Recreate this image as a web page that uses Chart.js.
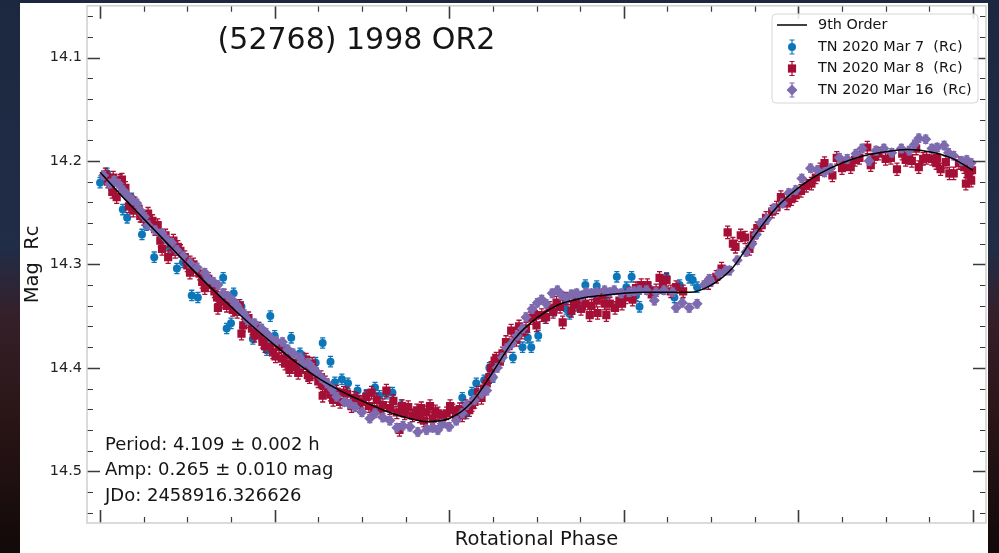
<!DOCTYPE html>
<html><head><meta charset="utf-8">
<script src="https://cdn.jsdelivr.net/npm/chart.js@4/dist/chart.umd.min.js"></script>
<style>
html,body{margin:0;padding:0;width:999px;height:553px;overflow:hidden;}
body{position:relative;background:linear-gradient(180deg,#1c2740 0%,#212c46 45%,#35202a 57%,#2a1517 75%,#120909 100%);font-family:"DejaVu Sans",sans-serif;}
#paper{position:absolute;left:20px;top:3px;width:968px;height:550px;background:#fff;}
#c{position:absolute;left:0;top:0;}
</style></head><body>
<div id="paper"></div>
<canvas id="c" width="999" height="553"></canvas>
<script>
const titleText = '(52768) 1998 OR2';
const xTitle = 'Rotational Phase';
const yTitle = 'Mag  Rc';
const fitName = '9th Order';
const seriesNames = ['TN 2020 Mar 7  (Rc)', 'TN 2020 Mar 8  (Rc)', 'TN 2020 Mar 16  (Rc)'];
const infoLines = ['Period: 4.109 \u00b1 0.002 h', 'Amp: 0.265 \u00b1 0.010 mag', 'JDo: 2458916.326626'];

const xMajorTicks = [0, 0.2, 0.4, 0.6, 0.8, 1.0];
const xMinorTicks = [0.05,0.1,0.15,0.25,0.3,0.35,0.45,0.5,0.55,0.65,0.7,0.75,0.85,0.9,0.95];
const yMajorTicks = [14.1, 14.2, 14.3, 14.4, 14.5];
const yMinorTicks = [14.06,14.08,14.12,14.14,14.16,14.18,14.22,14.24,14.26,14.28,14.32,14.34,14.36,14.38,14.42,14.44,14.46,14.48,14.52,14.54];

const fitPhase = [0,0.025,0.05,0.075,0.1,0.125,0.15,0.175,0.2,0.225,0.25,0.275,0.3,0.325,0.35,0.375,0.4,0.425,0.45,0.475,0.5,0.525,0.55,0.575,0.6,0.625,0.65,0.675,0.7,0.725,0.75,0.775,0.8,0.825,0.85,0.875,0.9,0.925,0.95,0.975,1.0];
const fitMag = [14.211,14.234,14.256,14.278,14.300,14.321,14.341,14.360,14.378,14.395,14.410,14.422,14.432,14.441,14.448,14.452,14.449,14.434,14.404,14.372,14.352,14.339,14.333,14.330,14.328,14.327,14.327,14.327,14.320,14.303,14.272,14.245,14.226,14.212,14.202,14.195,14.191,14.189,14.191,14.197,14.209];

const mar7 = [[0.000,14.221],[0.008,14.212],[0.016,14.219],[0.026,14.247],[0.031,14.255],[0.036,14.236],[0.048,14.271],[0.053,14.262],[0.062,14.293],[0.070,14.274],[0.080,14.284],[0.088,14.304],[0.095,14.298],[0.105,14.330],[0.112,14.332],[0.120,14.313],[0.128,14.318],[0.141,14.313],[0.145,14.362],[0.150,14.357],[0.153,14.328],[0.162,14.341],[0.175,14.372],[0.182,14.361],[0.191,14.383],[0.195,14.350],[0.200,14.369],[0.210,14.380],[0.219,14.371],[0.229,14.386],[0.232,14.390],[0.240,14.399],[0.247,14.395],[0.255,14.376],[0.264,14.394],[0.269,14.414],[0.277,14.411],[0.284,14.415],[0.295,14.422],[0.305,14.426],[0.315,14.419],[0.320,14.427],[0.328,14.425],[0.335,14.424],[0.345,14.436],[0.415,14.429],[0.420,14.444],[0.426,14.424],[0.431,14.415],[0.440,14.412],[0.446,14.400],[0.450,14.409],[0.461,14.388],[0.473,14.390],[0.484,14.380],[0.490,14.371],[0.494,14.380],[0.502,14.369],[0.510,14.352],[0.520,14.345],[0.534,14.343],[0.538,14.348],[0.546,14.340],[0.556,14.320],[0.569,14.321],[0.580,14.330],[0.592,14.312],[0.603,14.322],[0.609,14.312],[0.614,14.330],[0.618,14.341],[0.629,14.323],[0.644,14.323],[0.649,14.313],[0.658,14.332],[0.664,14.320],[0.675,14.313],[0.679,14.315],[0.684,14.322]];

const mar8 = [[0.006,14.213],[0.009,14.220],[0.012,14.222],[0.014,14.230],[0.015,14.216],[0.019,14.235],[0.023,14.219],[0.025,14.218],[0.029,14.226],[0.033,14.244],[0.036,14.238],[0.038,14.248],[0.040,14.241],[0.044,14.246],[0.046,14.253],[0.050,14.256],[0.055,14.251],[0.060,14.258],[0.063,14.266],[0.066,14.262],[0.069,14.277],[0.071,14.285],[0.075,14.272],[0.078,14.293],[0.081,14.280],[0.084,14.277],[0.086,14.288],[0.089,14.283],[0.092,14.287],[0.097,14.293],[0.100,14.301],[0.103,14.298],[0.103,14.308],[0.107,14.300],[0.110,14.305],[0.114,14.309],[0.117,14.317],[0.120,14.323],[0.124,14.314],[0.128,14.320],[0.131,14.326],[0.134,14.332],[0.135,14.342],[0.139,14.336],[0.142,14.330],[0.145,14.340],[0.148,14.337],[0.152,14.344],[0.157,14.346],[0.160,14.340],[0.162,14.367],[0.164,14.359],[0.167,14.355],[0.170,14.352],[0.174,14.362],[0.177,14.369],[0.181,14.362],[0.184,14.368],[0.186,14.375],[0.189,14.379],[0.192,14.372],[0.195,14.378],[0.198,14.385],[0.201,14.389],[0.205,14.380],[0.208,14.391],[0.212,14.396],[0.214,14.388],[0.217,14.402],[0.221,14.395],[0.224,14.399],[0.227,14.405],[0.229,14.402],[0.232,14.398],[0.236,14.392],[0.238,14.407],[0.240,14.409],[0.243,14.396],[0.246,14.404],[0.250,14.413],[0.253,14.409],[0.255,14.427],[0.255,14.417],[0.258,14.414],[0.261,14.420],[0.264,14.426],[0.267,14.431],[0.271,14.423],[0.275,14.433],[0.279,14.424],[0.283,14.425],[0.288,14.437],[0.291,14.429],[0.294,14.430],[0.297,14.436],[0.300,14.433],[0.305,14.428],[0.308,14.437],[0.311,14.424],[0.314,14.440],[0.317,14.431],[0.321,14.441],[0.324,14.436],[0.328,14.422],[0.332,14.439],[0.336,14.432],[0.340,14.443],[0.343,14.460],[0.346,14.437],[0.349,14.444],[0.353,14.438],[0.358,14.446],[0.363,14.441],[0.366,14.447],[0.368,14.439],[0.371,14.451],[0.374,14.443],[0.378,14.437],[0.381,14.449],[0.384,14.442],[0.387,14.444],[0.392,14.448],[0.397,14.444],[0.401,14.437],[0.404,14.441],[0.408,14.448],[0.412,14.440],[0.415,14.446],[0.419,14.437],[0.423,14.441],[0.426,14.436],[0.429,14.433],[0.433,14.424],[0.437,14.429],[0.440,14.420],[0.443,14.415],[0.446,14.409],[0.448,14.400],[0.452,14.393],[0.454,14.391],[0.458,14.394],[0.461,14.386],[0.465,14.375],[0.468,14.379],[0.471,14.364],[0.477,14.373],[0.480,14.360],[0.483,14.366],[0.488,14.362],[0.493,14.352],[0.497,14.348],[0.500,14.359],[0.506,14.349],[0.511,14.351],[0.515,14.342],[0.519,14.346],[0.523,14.337],[0.527,14.341],[0.530,14.356],[0.534,14.333],[0.540,14.345],[0.543,14.339],[0.546,14.335],[0.551,14.343],[0.556,14.338],[0.561,14.349],[0.563,14.340],[0.569,14.335],[0.570,14.347],[0.575,14.330],[0.578,14.338],[0.580,14.349],[0.584,14.338],[0.590,14.342],[0.595,14.335],[0.598,14.338],[0.602,14.332],[0.606,14.328],[0.610,14.334],[0.614,14.323],[0.620,14.320],[0.627,14.320],[0.632,14.329],[0.637,14.325],[0.641,14.313],[0.645,14.320],[0.649,14.315],[0.654,14.326],[0.660,14.322],[0.668,14.326],[0.697,14.318],[0.706,14.312],[0.712,14.304],[0.719,14.269],[0.725,14.280],[0.728,14.283],[0.734,14.272],[0.739,14.274],[0.744,14.285],[0.749,14.272],[0.753,14.265],[0.758,14.262],[0.763,14.255],[0.770,14.249],[0.775,14.245],[0.780,14.235],[0.787,14.241],[0.792,14.237],[0.797,14.233],[0.803,14.229],[0.809,14.224],[0.815,14.222],[0.820,14.216],[0.825,14.208],[0.830,14.202],[0.839,14.214],[0.844,14.197],[0.850,14.207],[0.855,14.203],[0.860,14.206],[0.865,14.199],[0.870,14.197],[0.879,14.187],[0.883,14.204],[0.887,14.196],[0.892,14.193],[0.900,14.198],[0.906,14.197],[0.913,14.208],[0.919,14.193],[0.923,14.199],[0.927,14.197],[0.930,14.200],[0.935,14.188],[0.938,14.206],[0.943,14.198],[0.947,14.197],[0.953,14.198],[0.958,14.202],[0.959,14.197],[0.963,14.208],[0.969,14.201],[0.973,14.212],[0.978,14.212],[0.984,14.202],[0.990,14.206],[0.992,14.222],[0.995,14.213],[0.998,14.219],[0.999,14.209]];

const mar16 = [[0.004,14.214],[0.011,14.222],[0.016,14.219],[0.021,14.222],[0.026,14.228],[0.031,14.233],[0.037,14.238],[0.042,14.241],[0.046,14.248],[0.051,14.254],[0.055,14.262],[0.063,14.267],[0.071,14.270],[0.076,14.276],[0.082,14.279],[0.088,14.286],[0.095,14.292],[0.103,14.299],[0.111,14.303],[0.120,14.308],[0.124,14.314],[0.130,14.317],[0.135,14.320],[0.141,14.328],[0.147,14.331],[0.152,14.335],[0.156,14.339],[0.160,14.344],[0.165,14.348],[0.169,14.354],[0.177,14.357],[0.185,14.362],[0.190,14.366],[0.195,14.371],[0.202,14.374],[0.209,14.375],[0.215,14.382],[0.221,14.386],[0.229,14.390],[0.232,14.396],[0.238,14.395],[0.243,14.400],[0.248,14.404],[0.254,14.410],[0.260,14.415],[0.266,14.421],[0.271,14.428],[0.280,14.433],[0.286,14.435],[0.292,14.438],[0.300,14.443],[0.309,14.449],[0.315,14.444],[0.324,14.448],[0.332,14.451],[0.340,14.458],[0.347,14.456],[0.355,14.457],[0.364,14.462],[0.374,14.460],[0.381,14.458],[0.387,14.460],[0.392,14.454],[0.400,14.457],[0.408,14.451],[0.415,14.444],[0.420,14.436],[0.429,14.431],[0.437,14.425],[0.443,14.422],[0.450,14.409],[0.455,14.400],[0.461,14.390],[0.466,14.381],[0.472,14.376],[0.478,14.369],[0.484,14.362],[0.488,14.351],[0.495,14.343],[0.501,14.337],[0.506,14.334],[0.511,14.338],[0.518,14.328],[0.524,14.325],[0.529,14.330],[0.534,14.332],[0.540,14.329],[0.546,14.328],[0.552,14.330],[0.557,14.327],[0.563,14.328],[0.569,14.327],[0.578,14.325],[0.584,14.327],[0.589,14.325],[0.597,14.328],[0.606,14.327],[0.612,14.326],[0.618,14.325],[0.626,14.325],[0.635,14.335],[0.637,14.327],[0.646,14.325],[0.656,14.327],[0.660,14.342],[0.667,14.337],[0.675,14.342],[0.684,14.338],[0.692,14.320],[0.698,14.314],[0.700,14.317],[0.709,14.309],[0.717,14.306],[0.721,14.306],[0.730,14.296],[0.740,14.288],[0.747,14.280],[0.752,14.271],[0.757,14.260],[0.764,14.256],[0.772,14.246],[0.782,14.241],[0.789,14.231],[0.797,14.228],[0.804,14.217],[0.814,14.207],[0.822,14.209],[0.830,14.211],[0.837,14.207],[0.847,14.197],[0.856,14.198],[0.866,14.193],[0.873,14.188],[0.881,14.200],[0.889,14.190],[0.898,14.188],[0.907,14.192],[0.918,14.188],[0.927,14.190],[0.933,14.184],[0.938,14.178],[0.946,14.179],[0.953,14.188],[0.959,14.187],[0.967,14.185],[0.972,14.192],[0.978,14.195],[0.987,14.200],[0.993,14.199],[0.998,14.202]];

const errMar7 = 0.005, errMar8 = 0.006, errMar16 = 0.004;

const BLUE = '#0d76b9', RED = '#a50e35', PURPLE = '#7d6aaf';
const FONT = '"DejaVu Sans", "Liberation Sans", sans-serif';

const toPts = a => a.map(p => ({x: p[0], y: p[1]}));

function drawMarker(ctx, style, x, y, r, color) {
  ctx.fillStyle = color;
  ctx.beginPath();
  if (style === 'circle') { ctx.arc(x, y, r, 0, Math.PI * 2); }
  else if (style === 'rect') { const s = Math.SQRT1_2 * r; ctx.rect(x - s, y - s, 2 * s, 2 * s); }
  else { ctx.moveTo(x - r, y); ctx.lineTo(x, y - r); ctx.lineTo(x + r, y); ctx.lineTo(x, y + r); ctx.closePath(); }
  ctx.fill();
}

const errorBars = {
  id: 'errorBars',
  beforeDatasetDraw(chart, args) {
    const ds = chart.data.datasets[args.index];
    if (!ds.err) return;
    const {ctx, chartArea: ca, scales: {x, y}} = chart;
    ctx.save();
    ctx.beginPath(); ctx.rect(ca.left, ca.top, ca.right - ca.left, ca.bottom - ca.top); ctx.clip();
    ctx.strokeStyle = ds.pointBackgroundColor; ctx.lineWidth = 1.3;
    ctx.beginPath();
    ds.data.forEach(p => {
      const px = x.getPixelForValue(p.x);
      const y1 = y.getPixelForValue(p.y - ds.err), y2 = y.getPixelForValue(p.y + ds.err);
      ctx.moveTo(px, y1); ctx.lineTo(px, y2);
      ctx.moveTo(px - 2.6, y1); ctx.lineTo(px + 2.6, y1);
      ctx.moveTo(px - 2.6, y2); ctx.lineTo(px + 2.6, y2);
    });
    ctx.stroke();
    ctx.restore();
  }
};

const frameTicks = {
  id: 'frameTicks',
  afterDatasetsDraw(chart) {
    const {ctx, chartArea: ca, scales: {x, y}} = chart;
    ctx.save();
    ctx.strokeStyle = '#3a3a3a';
    const tick = (vals, len, w) => {
      ctx.lineWidth = w;
      ctx.beginPath();
      vals.forEach(v => {
        const px = Math.round(x.getPixelForValue(v)) + 0.5;
        ctx.moveTo(px, ca.bottom); ctx.lineTo(px, ca.bottom - len);
        ctx.moveTo(px, ca.top); ctx.lineTo(px, ca.top + len);
      });
      ctx.stroke();
    };
    const ytick = (vals, len, w) => {
      ctx.lineWidth = w;
      ctx.beginPath();
      vals.forEach(v => {
        const py = Math.round(y.getPixelForValue(v)) + 0.5;
        ctx.moveTo(ca.left, py); ctx.lineTo(ca.left + len, py);
        ctx.moveTo(ca.right, py); ctx.lineTo(ca.right - len, py);
      });
      ctx.stroke();
    };
    tick(xMajorTicks, 13, 1.6); tick(xMinorTicks, 6, 1.2);
    ytick(yMajorTicks, 13, 1.6); ytick(yMinorTicks, 6, 1.2);
    ctx.strokeStyle = '#cfcfcf'; ctx.lineWidth = 1.5;
    ctx.strokeRect(ca.left, ca.top, ca.right - ca.left, ca.bottom - ca.top);
    ctx.restore();
  }
};

const overlayText = {
  id: 'overlayText',
  afterDraw(chart) {
    const ctx = chart.ctx;
    ctx.save();
    ctx.fillStyle = '#151515';
    ctx.textBaseline = 'middle';
    ctx.font = '30px ' + FONT;
    ctx.textAlign = 'center';
    ctx.fillText(titleText, 356.5, 41);
    ctx.textAlign = 'left';
    ctx.font = '18px ' + FONT;
    [445, 470.5, 496].forEach((yy, i) => ctx.fillText(infoLines[i], 105, yy));
    const lx = 772, ly = 14, lw = 206, lh = 89, r = 4;
    ctx.beginPath();
    ctx.moveTo(lx + r, ly); ctx.lineTo(lx + lw - r, ly); ctx.quadraticCurveTo(lx + lw, ly, lx + lw, ly + r);
    ctx.lineTo(lx + lw, ly + lh - r); ctx.quadraticCurveTo(lx + lw, ly + lh, lx + lw - r, ly + lh);
    ctx.lineTo(lx + r, ly + lh); ctx.quadraticCurveTo(lx, ly + lh, lx, ly + lh - r);
    ctx.lineTo(lx, ly + r); ctx.quadraticCurveTo(lx, ly, lx + r, ly); ctx.closePath();
    ctx.fillStyle = 'rgba(255,255,255,0.85)'; ctx.fill();
    ctx.strokeStyle = '#d6d6d6'; ctx.lineWidth = 1; ctx.stroke();
    const rows = [25, 47, 68.5, 90];
    const ds = chart.data.datasets;
    ctx.strokeStyle = '#000'; ctx.lineWidth = 1.5;
    ctx.beginPath(); ctx.moveTo(777, rows[0]); ctx.lineTo(807, rows[0]); ctx.stroke();
    const legendOrder = [3, 2, 1];
    legendOrder.forEach((di, k) => {
      const d = ds[di], yy = rows[k + 1];
      ctx.strokeStyle = d.pointBackgroundColor; ctx.lineWidth = 1.2;
      ctx.beginPath();
      ctx.moveTo(792, yy - 7); ctx.lineTo(792, yy + 7);
      ctx.moveTo(789.5, yy - 7); ctx.lineTo(794.5, yy - 7);
      ctx.moveTo(789.5, yy + 7); ctx.lineTo(794.5, yy + 7);
      ctx.stroke();
      drawMarker(ctx, d.pointStyle, 792, yy, d.pointRadius, d.pointBackgroundColor);
    });
    ctx.fillStyle = '#151515';
    ctx.font = '14.4px ' + FONT;
    ctx.fillText(ds[0].label, 818, rows[0]);
    legendOrder.forEach((di, k) => ctx.fillText(ds[di].label, 818, rows[k + 1]));
    ctx.restore();
  }
};

new Chart(document.getElementById('c'), {
  type: 'scatter',
  data: {
    datasets: [
      {type: 'line', label: fitName, data: fitPhase.map((v, i) => ({x: v, y: fitMag[i]})), borderColor: '#000', borderWidth: 1.5, pointRadius: 0, cubicInterpolationMode: 'monotone', fill: false, order: 0},
      {label: seriesNames[2], data: toPts(mar16), pointStyle: 'rectRot', pointRadius: 5.5, pointBackgroundColor: PURPLE, backgroundColor: PURPLE, pointBorderWidth: 0, borderWidth: 0, err: errMar16, order: 1},
      {label: seriesNames[1], data: toPts(mar8), pointStyle: 'rect', pointRadius: 5.8, pointBackgroundColor: RED, backgroundColor: RED, pointBorderWidth: 0, borderWidth: 0, err: errMar8, order: 2},
      {label: seriesNames[0], data: toPts(mar7), pointStyle: 'circle', pointRadius: 4, pointBackgroundColor: BLUE, backgroundColor: BLUE, pointBorderWidth: 0, borderWidth: 0, err: errMar7, order: 3}
    ]
  },
  options: {
    responsive: false,
    animation: false,
    devicePixelRatio: 1,
    layout: {padding: {left: 0, right: 13, top: 5.5, bottom: 0}},
    plugins: {legend: {display: false}, tooltip: {enabled: false}},
    scales: {
      x: {
        type: 'linear', min: -0.015, max: 1.015,
        grid: {display: false, drawTicks: false}, border: {display: false},
        ticks: {display: false},
        title: {display: true, text: xTitle, color: '#151515', font: {family: FONT, size: 19.5}, padding: {top: 0, bottom: 1}},
        afterFit: s => { s.height = 30; s.paddingLeft = 0; s.paddingRight = 0; }
      },
      y: {
        type: 'linear', min: 14.05, max: 14.55, reverse: true,
        grid: {display: false, drawTicks: false}, border: {display: false},
        afterBuildTicks: s => { s.ticks = yMajorTicks.map(v => ({value: v})); },
        ticks: {padding: 5, color: '#222', font: {family: FONT, size: 14.5}, callback: v => Number(v).toFixed(1)},
        title: {display: true, text: yTitle, color: '#151515', font: {family: FONT, size: 19.5}, padding: {top: 21, bottom: 0}},
        afterFit: s => { s.width = 87; s.paddingTop = 0; s.paddingBottom = 0; }
      }
    }
  },
  plugins: [errorBars, frameTicks, overlayText]
});
</script>
</body></html>
